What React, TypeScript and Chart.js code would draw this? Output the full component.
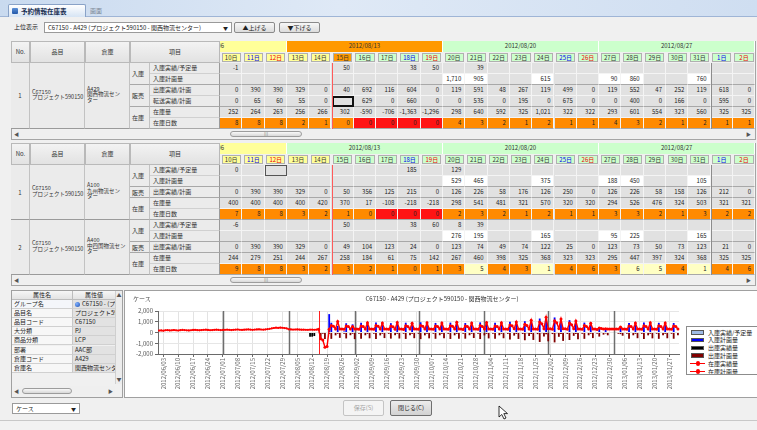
import React, { useEffect, useRef } from "react";
import { Chart, registerables } from "chart.js";
Chart.register(...registerables);

const FONT = '"Noto Sans CJK JP", "Noto Sans", sans-serif';

// ================= table data =================
const TABLE_FIRST_DAY = { y: 2012, m: 7, d: 10 }; // 2012/08/10
const DAY_COUNT = 24;
const WEEK_LABELS = ["2012/08/06", "2012/08/13", "2012/08/20", "2012/08/27"];
const HIDDEN_DAYS_FIRST_WEEK = 4;

const T1_IN_ACT = ["-1","","","","","50","","","38","50","","39","","","","","","","","","","","",""];
const T1_IN_PLAN = ["","","","","","","","","","","1,710","905","","","615","","","90","860","","","760","",""];
const T1_OUT = ["0","390","390","329","0","40","692","116","604","0","119","591","48","267","119","499","0","119","552","47","252","119","618","0"];
const T1_TRANSFER = ["0","65","60","55","0","","629","0","660","0","0","535","0","195","0","675","0","0","400","0","166","0","595","0"];
const T1_STOCK = ["252","264","263","256","266","302","-590","-706","-1,363","-1,296","298","640","592","325","1,021","322","322","293","601","554","323","560","325","325"];
const T1_DAYS = ["8","8","8","2","1","0","0","0","0","0","4","3","2","1","2","1","1","4","3","2","1","2","1","1"];

const T2A_IN_ACT = ["0","","","","","","","","185","","129","","","","","","","","","","","","",""];
const T2A_IN_PLAN = ["","","","","","","","","","","529","465","","","375","","","188","450","","","105","",""];
const T2A_OUT = ["0","390","390","329","0","50","356","125","215","0","126","226","58","176","126","250","0","126","226","58","158","126","212","0"];
const T2A_STOCK = ["400","400","400","400","420","370","17","-108","-218","-218","298","541","481","321","570","320","320","294","526","476","324","503","321","321"];
const T2A_DAYS = ["7","8","8","3","2","1","0","0","0","0","2","3","2","1","2","1","1","3","3","2","1","3","2","2"];

const T2B_IN_ACT = ["-6","","","","","50","","","38","60","8","39","","","","","","","","","","","",""];
const T2B_IN_PLAN = ["","","","","","","","","","","276","195","","","165","","","95","225","","","165","",""];
const T2B_OUT = ["0","390","390","329","0","49","104","123","24","0","123","74","49","74","122","25","0","123","73","50","73","123","21","0"];
const T2B_STOCK = ["244","279","251","244","267","258","184","61","75","142","267","460","398","325","368","323","323","295","447","397","324","368","325","325"];
const T2B_DAYS = ["9","8","8","3","2","3","2","1","0","1","3","5","4","3","1","4","6","3","6","5","4","1","4","6"];
const T2B_PALE = [11, 14, 18, 19, 21];

const PROPS = [
  ["グループ名", "C67150 - (プロジェクト"],
  ["品目名", "プロジェクト590150"],
  ["品目コード", "C67150"],
  ["大分類", "PJ"],
  ["商品分類", "LCP"],
  ["部署", "AAC部"],
  ["倉庫コード", "A429"],
  ["倉庫名", "関西物流センター"],
];

// ================= chart data =================
const CHART_START = { y: 2012, m: 5, d: 1 }; // 2012/06/01
const CHART_DAYS = 245; // through 2013/01/31
const TODAY = "2012/08/15";
const CHART_TITLE = "C67150 - A429 (プロジェクト590150 - 関西物流センター)";
const Y_MIN = -2000;
const Y_MAX = 2000;
const Y_STEP = 1000;

const STOCK_ACTUAL_START = "2012/06/01";
const STOCK_ACTUAL = [
  180,195,170,210,220,190,205,230,200,185,215,240,225,200,190,210,235,250,220,205,230,245,260,235,210,225,250,265,240,220,
  235,255,270,245,230,250,265,280,255,240,260,275,290,265,250,270,285,300,280,265,285,310,340,380,420,450,430,460,440,410,380,
  300,285,270,280,290,275,260,270,258,252,264,263,256,266,302,
];

const STOCK_PLAN_START = "2012/08/15";
const STOCK_PLAN = [
  302,
  -590,-706,-1363,-1296,
  298,640,592,325,1021,322,322,
  293,601,554,323,560,325,325,
  301,612,548,318,905,330,330,
  295,640,570,322,880,325,325,
  305,598,540,310,940,318,318,
  290,625,560,330,870,322,322,
  300,660,585,315,910,328,328,
  296,605,552,320,895,320,320,
  310,630,575,335,950,326,326,
  288,615,548,318,880,322,322,
  302,645,566,324,920,330,330,
  294,610,555,316,905,318,318,
  306,700,620,340,980,325,325,
  298,760,640,330,1150,335,335,
  312,980,820,360,1420,340,340,
  305,1100,900,380,1250,345,345,
  300,880,720,350,1080,330,330,
  296,640,560,322,860,320,320,
  290,420,380,330,360,325,325,
  322,322,322,330,520,318,318,
  298,610,548,316,880,322,322,
  304,635,560,325,905,326,326,
  296,620,552,318,890,320,320,
  300,615,550,322,
];

const PLAN_BARS_START = "2012/08/16";
const INBOUND_PLAN = [
  0,0,0,0,
  1710,905,0,0,615,0,0,
  90,860,0,0,760,0,0,
  0,900,0,0,720,0,0,
  0,930,0,0,690,0,0,
  0,870,0,0,760,0,0,
  0,910,0,0,680,0,0,
  0,950,0,0,730,0,0,
  0,890,0,0,700,0,0,
  0,920,0,0,770,0,0,
  0,880,0,0,690,0,0,
  0,940,0,0,740,0,0,
  0,900,0,0,710,0,0,
  0,990,0,0,800,0,0,
  0,1050,0,0,980,0,0,
  0,1300,0,0,1250,0,0,
  0,1400,0,0,1100,0,0,
  0,1150,0,0,900,0,0,
  0,920,0,0,700,0,0,
  0,500,0,0,300,0,0,
  0,0,0,0,450,0,0,
  0,890,0,0,700,0,0,
  0,920,0,0,720,0,0,
  0,900,0,0,710,0,0,
  0,880,0,0,
];
const OUTBOUND_PLAN = [
  692,116,604,0,
  119,591,48,267,119,499,0,
  119,552,47,252,119,618,0,
  126,580,52,260,122,540,0,
  118,605,45,270,120,520,0,
  124,570,50,255,118,560,0,
  120,598,49,262,125,530,0,
  122,615,53,268,119,545,0,
  119,585,47,258,121,525,0,
  125,600,51,265,124,570,0,
  118,575,46,255,117,515,0,
  123,610,52,270,122,550,0,
  120,590,48,260,120,535,0,
  128,650,55,290,130,600,0,
  135,720,60,320,140,690,0,
  150,880,70,380,160,820,0,
  145,920,68,400,150,780,0,
  132,700,58,310,135,620,0,
  120,590,48,260,118,520,0,
  110,380,40,200,90,260,0,
  0,0,0,120,150,300,0,
  119,585,47,258,120,530,0,
  122,600,50,265,121,545,0,
  120,590,48,260,119,535,0,
  119,580,47,255,
];
const INBOUND_ACTUAL: [string, number][] = [["2012/08/15", 50], ["2012/08/18", 38], ["2012/08/19", 50], ["2012/08/21", 39]];
const OUTBOUND_ACTUAL: [string, number][] = [["2012/08/11", 390], ["2012/08/12", 390], ["2012/08/13", 329], ["2012/08/15", 40]];

const SERIES = [
  { name: "入庫実績/予定量", color: "#9fbbe6", kind: "bar" },
  { name: "入庫計画量", color: "#0000ff", kind: "bar" },
  { name: "出庫実績量", color: "#000000", kind: "bar" },
  { name: "出庫計画量", color: "#800000", kind: "bar" },
  { name: "在庫実績量", color: "#ff0000", kind: "line" },
  { name: "在庫計画量", color: "#ff0000", kind: "line" },
];

// ================= helpers =================
const pad2 = (n: number) => String(n).padStart(2, "0");
function fmtDate(d: Date) {
  return `${d.getUTCFullYear()}/${pad2(d.getUTCMonth() + 1)}/${pad2(d.getUTCDate())}`;
}
function chartLabels() {
  const out: string[] = [];
  for (let i = 0; i < CHART_DAYS; i++) out.push(fmtDate(new Date(Date.UTC(CHART_START.y, CHART_START.m, CHART_START.d + i))));
  return out;
}
function place(labels: string[], start: string, values: number[], sign = 1) {
  const arr: (number | null)[] = labels.map(() => null);
  const s = labels.indexOf(start);
  values.forEach((v, i) => { if (s + i < arr.length) arr[s + i] = v === 0 ? null : sign * v; });
  return arr;
}
function placePairs(labels: string[], pairs: [string, number][], sign = 1) {
  const arr: (number | null)[] = labels.map(() => null);
  pairs.forEach(([d, v]) => { const i = labels.indexOf(d); if (i >= 0) arr[i] = sign * v; });
  return arr;
}

type BP = { x: number; y: number; w: number; h: number; s?: React.CSSProperties; children?: React.ReactNode };
const B = (p: BP) => (
  <div style={{ position: "absolute", left: p.x, top: p.y, width: p.w, height: p.h, boxSizing: "border-box", whiteSpace: "nowrap", overflow: "hidden", ...p.s }}>{p.children}</div>
);

// ================= table =================
const DX0 = 220;
const DW = 22.3;
const ROW_H = 11;
const HEAD_H = 22;

type Row = { label: string; cells: string[]; plan?: boolean; days?: boolean; stock?: string[] };
type Grp = { name: string; rows: Row[] };
type Item = { no: string; item: string[]; wh: string[]; groups: Grp[]; pale: number[] };

const mkItem = (no: string, item: string[], wh: string[], inAct: string[], inPlan: string[], out: string[], transfer: string[] | null, stock: string[], days: string[], pale: number[]): Item => ({
  no, item, wh, pale,
  groups: [
    { name: "入庫", rows: [{ label: "入庫実績/予定量", cells: inAct }, { label: "入庫計画量", cells: inPlan, plan: true }] },
    { name: "販売", rows: transfer ? [{ label: "出庫実績/計画", cells: out }, { label: "転送実績/計画", cells: transfer }] : [{ label: "出庫実績/計画", cells: out }] },
    { name: "在庫", rows: [{ label: "在庫量", cells: stock }, { label: "在庫日数", cells: days, days: true, stock }] },
  ],
});

const ITEMS_T1 = [mkItem("1", ["C67150", "プロジェクト590150"], ["A429", "関西物流セン", "ター"], T1_IN_ACT, T1_IN_PLAN, T1_OUT, T1_TRANSFER, T1_STOCK, T1_DAYS, [])];
const ITEMS_T2 = [
  mkItem("1", ["C67150", "プロジェクト590150"], ["A100", "九州物流セン", "ター"], T2A_IN_ACT, T2A_IN_PLAN, T2A_OUT, null, T2A_STOCK, T2A_DAYS, []),
  mkItem("2", ["C67150", "プロジェクト590150"], ["A400", "中四国物流セン", "ター"], T2B_IN_ACT, T2B_IN_PLAN, T2B_OUT, null, T2B_STOCK, T2B_DAYS, T2B_PALE),
];

function dayInfo(i: number) {
  const d = new Date(Date.UTC(TABLE_FIRST_DAY.y, TABLE_FIRST_DAY.m, TABLE_FIRST_DAY.d + i));
  return { n: d.getUTCDate(), dow: d.getUTCDay() };
}

function DataTable(props: { top: number; items: Item[]; weekColors: string[]; dayColor: (i: number) => string; sel: { item: number; row: number; col: number; thick: boolean } }) {
  const { top, items, weekColors, dayColor, sel } = props;
  const bodyTop = top + HEAD_H;
  const nRows = items.reduce((a, it) => a + it.groups.reduce((b, g) => b + g.rows.length, 0), 0);
  const bodyH = nRows * ROW_H;
  const els: React.ReactNode[] = [];
  const hdr = { background: "linear-gradient(#f3f3f3,#e2e2e2)", border: "1px solid #b9b9b9", textAlign: "center" as const, color: "#333" };
  els.push(<B key="o" x={11} y={top} w={745} h={HEAD_H + bodyH + 11} s={{ border: "1px solid #a5a5a5", background: "#f0f0f0" }} />);
  ([["No.", 11, 30], ["品目", 30, 85], ["倉庫", 85, 130], ["項目", 130, 220]] as [string, number, number][]).forEach(([t, a, b]) =>
    els.push(<B key={"h" + t} x={a} y={top} w={b - a} h={HEAD_H} s={{ ...hdr, lineHeight: HEAD_H - 2 + "px" }}>{t}</B>)
  );
  // week band + days
  const week: React.ReactNode[] = [];
  WEEK_LABELS.forEach((lab, g) => {
    const x = (g * 7 - HIDDEN_DAYS_FIRST_WEEK) * DW;
    week.push(<B key={"w" + g} x={x} y={0} w={7 * DW} h={10.5} s={{ background: weekColors[g], borderRight: "1px solid #ffffff", textAlign: "center", lineHeight: "10px", color: "#333" }}>{lab}</B>);
  });
  for (let i = 0; i < DAY_COUNT; i++) {
    const { n, dow } = dayInfo(i);
    const c = dow === 6 ? "#0000ee" : dow === 0 ? "#ee0000" : "#333";
    week.push(<B key={"d" + i} x={i * DW + 1.5} y={11.5} w={DW - 3} h={9.5} s={{ background: dayColor(i), border: "1px solid #b0b0b0", textAlign: "center", lineHeight: "8px", color: c }}>{n}日</B>);
  }
  els.push(<B key="wk" x={DX0} y={top + 0.5} w={535} h={HEAD_H - 0.5} s={{ background: "#f0f0f0" }}>{week}</B>);

  // body
  let r = 0;
  const cells: React.ReactNode[] = [];
  items.forEach((it, ii) => {
    const itemRows = it.groups.reduce((b, g) => b + g.rows.length, 0);
    const iy = bodyTop + r * ROW_H;
    const ih = itemRows * ROW_H;
    const lab = { background: "#ebebeb", borderRight: "1px solid #c2c2c2", borderBottom: "1px solid #9a9a9a", color: "#333" };
    els.push(<B key={"no" + ii} x={11} y={iy} w={19} h={ih} s={{ ...lab, textAlign: "center", lineHeight: ih + "px" }}>{it.no}</B>);
    els.push(<B key={"it" + ii} x={30} y={iy} w={55} h={ih} s={{ ...lab, display: "flex", flexDirection: "column", justifyContent: "center", paddingLeft: 2, lineHeight: "5.5px", fontSize: 5.5 }}>{it.item.map((t, k) => <div key={k}>{t}</div>)}</B>);
    els.push(<B key={"wh" + ii} x={85} y={iy} w={45} h={ih} s={{ ...lab, display: "flex", flexDirection: "column", justifyContent: "center", paddingLeft: 2, lineHeight: "5.5px", fontSize: 5.5 }}>{it.wh.map((t, k) => <div key={k}>{t}</div>)}</B>);
    let gr = 0;
    it.groups.forEach((g, gi) => {
      const gy = bodyTop + (r + gr) * ROW_H;
      const gh = g.rows.length * ROW_H;
      els.push(<B key={`g${ii}-${gi}`} x={130} y={gy} w={20} h={gh} s={{ ...lab, borderBottom: "1px solid #a8a8a8", lineHeight: gh + "px", paddingLeft: 2 }}>{g.name}</B>);
      g.rows.forEach((row, ri) => {
        const ry = bodyTop + (r + gr + ri) * ROW_H;
        const last = ri === g.rows.length - 1;
        els.push(<B key={`l${ii}-${gi}-${ri}`} x={150} y={ry} w={70} h={ROW_H} s={{ ...lab, borderRight: "1px solid #9a9a9a", borderBottom: last ? "1px solid #a8a8a8" : "1px solid #d0d0d0", lineHeight: ROW_H - 1 + "px", paddingLeft: 3 }}>{row.label}</B>);
        row.cells.forEach((t, ci) => {
          let bg = "#e1e1e1";
          if (row.plan && t) bg = "#ffffff";
          if (row.days) {
            bg = "#ff8a00";
            if (row.stock && row.stock[ci].startsWith("-")) bg = "#ff1414";
            if (it.pale.includes(ci)) bg = "#ffffc4";
          }
          const isSel = sel.item === ii && sel.row === gr + ri && sel.col === ci;
          cells.push(
            <B key={`c${ii}-${gi}-${ri}-${ci}`} x={ci * DW} y={ry - bodyTop} w={DW} h={ROW_H}
              s={{ background: bg, borderRight: "1px solid #f4f4f4", borderBottom: last ? "1px solid #a8a8a8" : "1px solid #f4f4f4", textAlign: "right", paddingRight: 3, lineHeight: ROW_H - 1 + "px", color: "#222", ...(isSel ? { border: sel.thick ? "2px solid #111" : "1px solid #555", lineHeight: ROW_H - 4 + "px" } : {}) }}>{t}</B>
          );
        });
      });
      gr += g.rows.length;
    });
    r += itemRows;
  });
  els.push(<B key="body" x={DX0} y={bodyTop} w={535} h={bodyH} s={{ background: "#e1e1e1" }}>
    {cells}
    <B x={5 * DW} y={0} w={1} h={bodyH} s={{ background: "#ff5a5a" }} />
    <B x={22 * DW} y={0} w={1} h={bodyH} s={{ background: "#8c8c8c" }} />
  </B>);
  // scrollbar
  const sy = bodyTop + bodyH + 1.5;
  els.push(<B key="sb" x={12} y={sy} w={743} h={8} s={{ background: "#efefef" }} />);
  els.push(<B key="sbl" x={14} y={sy} w={8} h={8} s={{ color: "#555", fontSize: 5, lineHeight: "8px" }}>◀</B>);
  els.push(<B key="sbr" x={746} y={sy} w={8} h={8} s={{ color: "#555", fontSize: 5, lineHeight: "8px" }}>▶</B>);
  els.push(<B key="sbt" x={230} y={sy + 1} w={72} h={6} s={{ background: "linear-gradient(#f8f8f8,#d8d8d8)", border: "1px solid #9c9c9c", borderRadius: 3, textAlign: "center", fontSize: 5, lineHeight: "4px", color: "#777" }}>|||</B>);
  return <>{els}</>;
}

// ================= chart =================
function StockChart() {
  const ref = useRef<HTMLCanvasElement>(null);
  useEffect(() => {
    const labels = chartLabels();
    const todayIdx = labels.indexOf(TODAY);
    const isSunday = (i: number) => new Date(labels[i].replace(/\//g, "-") + "T00:00:00Z").getUTCDay() === 0;
    const markers = {
      id: "markers",
      beforeDatasetsDraw(chart: any) {
        const { ctx, chartArea, scales } = chart;
        const x = scales.x;
        ctx.save();
        labels.forEach((l, i) => {
          if (i > 0 && l.endsWith("/01")) {
            const px = Math.round(x.getPixelForValue(i)) + 0.5;
            ctx.strokeStyle = "#6e6e6e";
            ctx.lineWidth = 1.5;
            ctx.beginPath(); ctx.moveTo(px, chartArea.top); ctx.lineTo(px, chartArea.bottom); ctx.stroke();
          }
        });
        const tx = Math.round(x.getPixelForValue(todayIdx)) + 0.5;
        ctx.strokeStyle = "#ff2020";
        ctx.lineWidth = 1;
        ctx.beginPath(); ctx.moveTo(tx, chartArea.top); ctx.lineTo(tx, chartArea.bottom); ctx.stroke();
        ctx.restore();
      },
    };
    const barCommon = { type: "bar", grouped: false, barPercentage: 0.85, categoryPercentage: 1, borderWidth: 0, order: 2 };
    const lineCommon = { type: "line", borderWidth: 1.4, tension: 0, pointBorderWidth: 0, spanGaps: false, order: 1 };
    const chart = new Chart(ref.current as HTMLCanvasElement, {
      type: "bar",
      data: {
        labels,
        datasets: [
          { ...barCommon, label: SERIES[0].name, backgroundColor: SERIES[0].color, data: placePairs(labels, INBOUND_ACTUAL) },
          { ...barCommon, label: SERIES[1].name, backgroundColor: SERIES[1].color, data: place(labels, PLAN_BARS_START, INBOUND_PLAN) },
          { ...barCommon, label: SERIES[2].name, backgroundColor: SERIES[2].color, data: placePairs(labels, OUTBOUND_ACTUAL, -1) },
          { ...barCommon, label: SERIES[3].name, backgroundColor: SERIES[3].color, data: place(labels, PLAN_BARS_START, OUTBOUND_PLAN, -1) },
          { ...lineCommon, label: SERIES[4].name, borderColor: SERIES[4].color, backgroundColor: SERIES[4].color, pointRadius: 1.1, data: place(labels, STOCK_ACTUAL_START, STOCK_ACTUAL) },
          { ...lineCommon, label: SERIES[5].name, borderColor: SERIES[5].color, backgroundColor: SERIES[5].color, pointRadius: 1.5, data: place(labels, STOCK_PLAN_START, STOCK_PLAN) },
        ] as any,
      },
      options: {
        animation: false,
        responsive: false,
        devicePixelRatio: 1,
        layout: { padding: { left: 0, right: 79, top: 20, bottom: 0 } },
        plugins: { legend: { display: false }, tooltip: { enabled: false }, title: { display: false } },
        scales: {
          x: {
            offset: true,
            afterFit: (s: any) => { s.height = 45; },
            border: { color: "#6a6a6a" },
            grid: {
              offset: false,
              drawTicks: true,
              tickLength: 3,
              color: (c: any) => (isSunday(c.index) ? "#e3e3e3" : "rgba(0,0,0,0)"),
              tickColor: (c: any) => (isSunday(c.index) ? "#6a6a6a" : "rgba(0,0,0,0)"),
            },
            ticks: {
              autoSkip: false,
              maxRotation: 90,
              minRotation: 90,
              padding: 1,
              color: "#666",
              font: { family: FONT, size: 6 },
              callback: (_v: any, i: number) => (isSunday(i) ? labels[i] : ""),
            },
          },
          y: {
            min: Y_MIN,
            max: Y_MAX,
            afterFit: (s: any) => { s.width = 33; },
            border: { color: "#6a6a6a" },
            grid: { color: "#e6e6e6", tickColor: "#6a6a6a", tickLength: 3 },
            ticks: { stepSize: Y_STEP, padding: 2, color: "#555", font: { family: FONT, size: 6 }, callback: (v: any) => Number(v).toLocaleString("en-US") },
          },
        },
      } as any,
      plugins: [markers],
    });
    return () => chart.destroy();
  }, []);
  return <canvas ref={ref} width={633} height={108} style={{ position: "absolute", left: 0, top: 0 }} />;
}

function Legend() {
  return (
    <B x={561} y={35} w={100} h={49} s={{ background: "#fff", border: "1px solid #8c8c8c" }}>
      {SERIES.map((s, i) => (
        <div key={i} style={{ position: "absolute", left: 3, top: 2 + i * 7.8, height: 7, width: 96 }}>
          {s.kind === "bar" ? (
            <div style={{ position: "absolute", left: 1, top: 1.5, width: 13, height: 4.5, background: s.color, border: "1px solid #555", boxSizing: "border-box" }} />
          ) : (
            <>
              <div style={{ position: "absolute", left: 0, top: 3, width: 15, height: 1.5, background: s.color }} />
              <div style={{ position: "absolute", left: 5.5, top: 1.5, width: 4.5, height: 4.5, borderRadius: 3, background: s.color }} />
            </>
          )}
          <div style={{ position: "absolute", left: 18, top: 0, lineHeight: "7px", fontSize: 6, color: "#222" }}>{s.name}</div>
        </div>
      ))}
    </B>
  );
}

// ================= page =================
export default function App() {
  const btn = { background: "linear-gradient(#f7f7f7,#dcdcdc)", border: "1px solid #8a8a8a", borderRadius: 2, textAlign: "center" as const, color: "#222" };
  return (
    <div style={{ position: "fixed", left: 0, top: 0, width: 757, height: 430, overflow: "hidden", background: "#f0f0f0", fontFamily: FONT, fontSize: 6, color: "#222" }}>
      {/* title bar */}
      <B x={0} y={0} w={757} h={17} s={{ background: "linear-gradient(90deg,#c9daef,#dfe9f6 45%,#cfdef1)", borderBottom: "1px solid #9fb5d6" }} />
      <B x={8} y={4} w={78} h={13} s={{ background: "linear-gradient(#ffffff,#d6e4f4)", border: "1px solid #89a2c7", borderBottom: "none", borderRadius: "2px 2px 0 0" }}>
        <div style={{ position: "absolute", left: 3, top: 3, width: 6, height: 6, background: "linear-gradient(#5b8fd6,#2458a8)", borderRadius: 1 }} />
        <div style={{ position: "absolute", left: 12, top: 0, lineHeight: "12px", fontSize: 6.5, color: "#1b2f52", fontWeight: 700 }}>予約情報在庫表</div>
      </B>
      <B x={88} y={5} w={24} h={11} s={{ lineHeight: "11px", color: "#7c8796", paddingLeft: 2 }}>画面</B>
      {/* toolbar */}
      <B x={14} y={22} w={30} h={10} s={{ lineHeight: "10px" }}>上位表示</B>
      <B x={44} y={22} w={188} h={10.5} s={{ background: "#fff", border: "1px solid #9a9a9a", lineHeight: "9px", paddingLeft: 3 }}>
        {CHART_TITLE}
        <span style={{ position: "absolute", right: 3, top: 0, fontSize: 5 }}>▼</span>
      </B>
      <B x={234} y={21.5} w={41} h={11.5} s={{ ...btn, lineHeight: "10px" }}>▲上げる</B>
      <B x={279} y={21.5} w={41} h={11.5} s={{ ...btn, lineHeight: "10px" }}>▼下げる</B>

      <DataTable top={40.5} items={ITEMS_T1} weekColors={["#ffff99", "#ff9900", "#ccffcc", "#ccffcc"]} dayColor={(i) => (i < 5 ? "#ffff99" : i === 5 ? "#ff9900" : "#ccffcc")} sel={{ item: 0, row: 3, col: 5, thick: true }} />
      <DataTable top={142.5} items={ITEMS_T2} weekColors={["#ffff99", "#ccffcc", "#ccffcc", "#ccffcc"]} dayColor={(i) => (i < 5 ? "#ffff99" : "#ccffcc")} sel={{ item: 0, row: 0, col: 2, thick: false }} />

      {/* property grid */}
      <B x={11} y={289.5} w={112} h={108} s={{ border: "1px solid #a0a0a0", background: "#f0f0f0" }} />
      <B x={12} y={290.5} w={61} h={9} s={{ background: "linear-gradient(#f6f6f6,#e3e3e3)", borderRight: "1px solid #bdbdbd", borderBottom: "1px solid #bdbdbd", textAlign: "center", lineHeight: "8px" }}>属性名</B>
      <B x={73} y={290.5} w={42} h={9} s={{ background: "linear-gradient(#f6f6f6,#e3e3e3)", borderBottom: "1px solid #bdbdbd", textAlign: "center", lineHeight: "8px" }}>属性値</B>
      <B x={115} y={290.5} w={7} h={93} s={{ background: "#ececec", borderLeft: "1px solid #cfcfcf", fontSize: 5, textAlign: "center", color: "#555" }}>
        <div style={{ lineHeight: "8px" }}>▲</div>
        <div style={{ position: "absolute", top: 84, width: 6, lineHeight: "8px" }}>▼</div>
      </B>
      {PROPS.map(([k, v], i) => (
        <React.Fragment key={k}>
          <B x={12} y={299.5 + i * 9.2} w={61} h={9.2} s={{ background: i === 0 ? "#f4f6fa" : "#f7f7f7", borderRight: "1px solid #c8c8c8", borderBottom: "1px solid #d0d0d0", lineHeight: "8.5px", paddingLeft: 2 }}>{k}</B>
          <B x={73} y={299.5 + i * 9.2} w={42} h={9.2} s={{ background: "#e2e2e2", borderBottom: "1px solid #d0d0d0", lineHeight: "8.5px", paddingLeft: i === 0 ? 9 : 2 }}>
            {i === 0 && <div style={{ position: "absolute", left: 2, top: 2, width: 5, height: 5, borderRadius: 3, background: "radial-gradient(circle at 35% 35%,#7fb0ff,#1c4fb0)" }} />}
            {v}
          </B>
        </React.Fragment>
      ))}
      <B x={12} y={386} w={103} h={9} s={{ background: "#efefef" }}>
        <div style={{ position: "absolute", left: 2, top: 0, fontSize: 5, lineHeight: "9px", color: "#555" }}>◀</div>
        <div style={{ position: "absolute", left: 10, top: 1.5, width: 50, height: 6, background: "linear-gradient(#f8f8f8,#d8d8d8)", border: "1px solid #9c9c9c", borderRadius: 3, boxSizing: "border-box" }} />
        <div style={{ position: "absolute", left: 96, top: 0, fontSize: 5, lineHeight: "9px", color: "#555" }}>▶</div>
      </B>

      {/* chart panel */}
      <B x={124} y={289.5} w={640} h={108} s={{ background: "#fff", border: "1px solid #a0a0a0" }}>
        <StockChart />
        <div style={{ position: "absolute", left: 8, top: 4, lineHeight: "7px", color: "#444" }}>ケース</div>
        <div style={{ position: "absolute", left: 176, top: 4, width: 282, textAlign: "center", lineHeight: "7px", fontSize: 6, color: "#333" }}>{CHART_TITLE}</div>
        <Legend />
      </B>

      {/* footer */}
      <B x={12} y={403} w={68} h={11} s={{ background: "#fff", border: "1px solid #9a9a9a", lineHeight: "9.5px", paddingLeft: 3 }}>
        ケース
        <span style={{ position: "absolute", right: 3, top: 0, fontSize: 5 }}>▼</span>
      </B>
      <B x={343} y={400} w={41} h={16} s={{ background: "#f4f4f4", border: "1px solid #c4c4c4", borderRadius: 2, textAlign: "center", lineHeight: "14px", color: "#a6a6a6" }}>保存(S)</B>
      <B x={390} y={400} w={42} h={16} s={{ background: "linear-gradient(#ececec,#d2d2d2)", border: "1px solid #6f6f6f", borderRadius: 2, textAlign: "center", lineHeight: "14px", color: "#222" }}>閉じる(C)</B>
      <svg style={{ position: "absolute", left: 498, top: 405 }} width={12} height={16}>
        <polygon points="1,1 1,12 3.8,9.5 6,14 8,13 5.8,8.6 9.5,8.6" fill="#fff" stroke="#000" strokeWidth={0.8} />
      </svg>
      <B x={0} y={420} w={757} h={10} s={{ background: "#f2f2f2", borderTop: "1px solid #c8c8c8" }} />
    </div>
  );
}
